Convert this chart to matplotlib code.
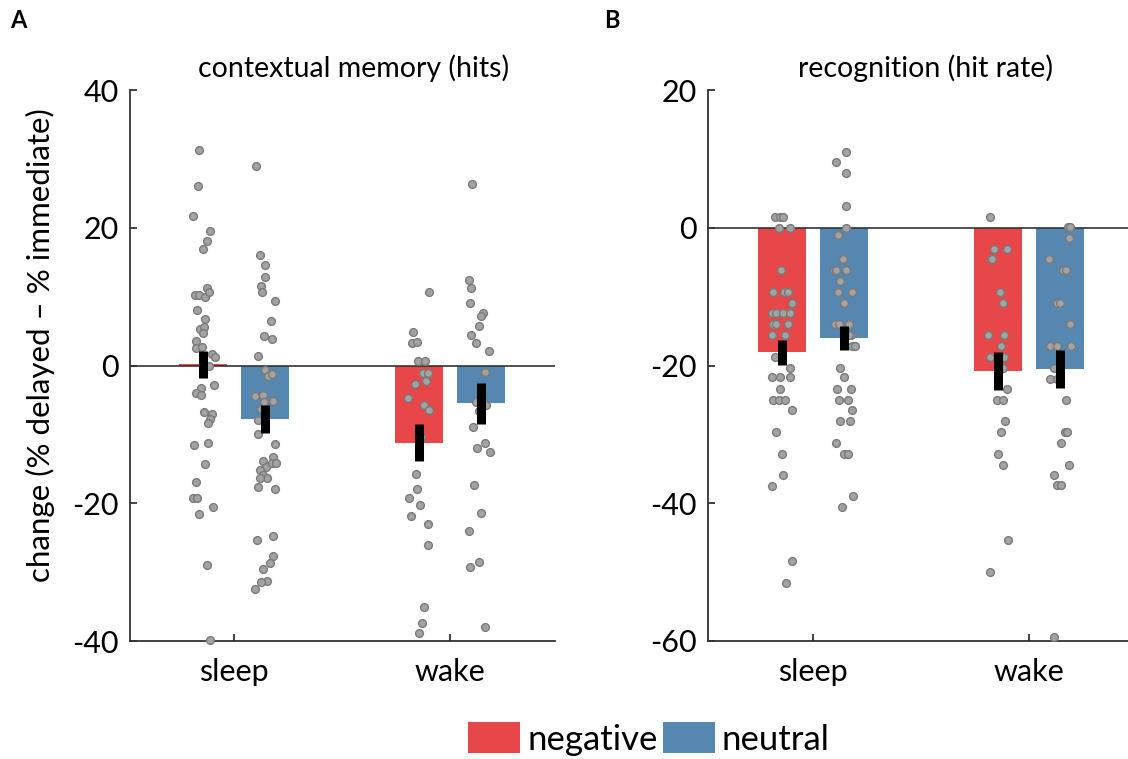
import numpy as np
import matplotlib
matplotlib.use('Agg')
import matplotlib.pyplot as plt
from matplotlib.patches import Patch

plt.rcParams['font.family'] = ['Lato', 'DejaVu Sans']
plt.rcParams['axes.unicode_minus'] = False

groups = ['sleep', 'wake']
conditions = ['negative', 'neutral']
colors = {'negative': '#E8474A', 'neutral': '#5687B0'}

# panel A: contextual memory (hits)
a_means = {'negative': [0.15, -11.2], 'neutral': [-7.8, -5.5]}
a_sems = {'negative': [2.0, 2.7], 'neutral': [2.0, 3.0]}

a_sleep_neg = [31.3, 26.1, 21.7, 19.5, 18.1, 16.9, 11.2, 10.3, 10.3, 9.9, 10.6, 8.1, 6.7, 5.3,
               5.6, 4.7, 3.5, 2.5, 2.7, 1.7, 1.2, 0.0, -3.2, -4.0, -4.3, -2.9, -6.8, -7.0, -7.7,
               -8.3, -11.6, -11.3, -14.3, -16.9, -19.2, -19.2, -20.6, -21.5, -29.0, -39.8]
a_sleep_neg_jit = [-0.020, -0.026, -0.047, 0.029, 0.016, -0.004, 0.016, -0.038, -0.020, 0.007,
                   0.027, -0.030, 0.008, -0.016, 0.002, -0.001, -0.035, -0.032, -0.008, 0.041,
                   0.052, 0.026, -0.010, -0.032, -0.012, 0.050, 0.004, 0.038, 0.030, 0.022,
                   -0.044, 0.022, 0.007, -0.033, -0.047, -0.030, 0.047, -0.021, 0.015, 0.029]

a_sleep_neu = [29.0, 16.0, 14.6, 12.9, 11.6, 10.7, 9.3, 6.5, 4.3, 3.9, 1.4, -0.7, -1.5, -1.3,
               -4.4, -4.3, -5.3, -5.2, -6.3, -7.9, -9.9, -11.4, -13.3, -13.9, -14.7, -14.1,
               -14.1, -15.2, -15.9, -16.4, -16.4, -17.7, -17.9, -25.3, -24.7, -27.7, -28.7,
               -29.6, -31.3, -31.4, -32.4]
a_sleep_neu_jit = [-0.043, -0.027, -0.001, -0.001, -0.020, -0.015, 0.043, 0.027, -0.006, 0.030,
                   -0.036, -0.001, 0.013, 0.033, -0.050, -0.010, -0.006, 0.036, -0.021, -0.033,
                   -0.035, 0.043, 0.036, -0.010, 0.001, 0.032, 0.050, -0.026, -0.010, 0.006,
                   -0.026, -0.035, 0.043, -0.040, 0.035, 0.035, 0.020, -0.013, 0.006, -0.018,
                   -0.049]

a_wake_neg = [10.7, 4.9, 3.2, 3.4, 0.6, 0.7, -1.1, -1.1, -2.2, -2.7, -4.7, -5.8, -6.4, -10.4,
              -15.8, -18.0, -19.3, -20.2, -21.8, -23.0, -26.0, -35.0, -37.4, -38.8]
a_wake_neg_jit = [0.048, -0.028, -0.031, -0.009, -0.001, 0.031, 0.020, 0.045, 0.036, -0.015,
                  -0.047, 0.027, 0.048, 0.013, -0.011, -0.006, -0.043, 0.006, -0.033, 0.045,
                  0.042, 0.025, 0.017, 0.001]

a_wake_neu = [26.3, 12.4, 11.3, 9.1, 7.6, 7.2, 5.7, 4.4, 3.2, 2.1, -0.9, -5.3, -5.8, -6.6, -8.9,
              -12.0, -11.3, -12.6, -17.4, -21.4, -24.0, -28.6, -29.3, -38.0]
a_wake_neu_jit = [-0.040, -0.053, -0.045, -0.050, 0.013, 0.001, -0.009, -0.043, -0.020, 0.039,
                  0.019, -0.020, 0.027, -0.009, -0.033, -0.017, 0.022, 0.043, -0.031, 0.001,
                  -0.053, -0.009, -0.051, 0.020]

# panel B: recognition (hit rate)
b_means = {'negative': [-18.1, -20.8], 'neutral': [-16.0, -20.5]}
b_sems = {'negative': [1.8, 2.7], 'neutral': [1.7, 2.8]}

b_sleep_neg = [1.6, 1.6, 1.6, -0.1, 0.0, -6.2, -9.3, -9.3, -9.3, -10.9, -12.4, -12.4, -12.4,
               -12.4, -14.0, -14.0, -14.0, -15.5, -15.5, -18.7, -20.3, -21.7, -21.7, -21.7,
               -23.4, -25.0, -25.0, -25.0, -26.5, -29.7, -32.8, -35.9, -37.5, -48.4, -51.6]
b_sleep_neg_jit = [-0.030, -0.007, 0.008, -0.012, 0.036, -0.004, -0.041, 0.012, 0.029, 0.049,
                   -0.046, -0.027, 0.004, 0.038, -0.040, -0.026, 0.027, -0.046, 0.015, -0.032,
                   0.038, -0.046, -0.007, 0.038, -0.007, -0.040, -0.012, 0.013, 0.049, -0.027,
                   -0.001, 0.007, -0.046, 0.049, 0.022]

b_sleep_neu = [11.0, 9.5, 7.9, 3.2, 0.0, -1.0, -4.6, -6.2, -6.2, -6.2, -7.8, -9.3, -9.3, -10.9,
               -14.0, -14.0, -14.0, -15.5, -15.5, -17.1, -17.1, -20.3, -21.7, -23.4, -23.4,
               -25.0, -25.0, -26.5, -28.1, -28.1, -31.2, -32.8, -32.8, -39.0, -40.6]
b_sleep_neu_jit = [0.007, -0.036, 0.010, 0.008, 0.007, -0.027, -0.006, -0.047, -0.036, 0.010,
                   -0.018, -0.027, 0.038, 0.002, -0.043, -0.024, 0.024, 0.033, 0.021, 0.038,
                   0.049, -0.018, 0.001, -0.033, 0.033, -0.021, 0.020, 0.036, -0.018, 0.027,
                   -0.036, 0.002, 0.018, 0.041, -0.010]

b_wake_neg = [1.6, -3.1, -3.1, -4.6, -4.6, -9.3, -10.9, -15.6, -15.6, -17.1, -18.7, -18.7,
              -20.3, -23.4, -25.0, -25.0, -28.1, -29.7, -32.8, -34.4, -45.3, -50.0]
b_wake_neg_jit = [-0.038, -0.016, 0.040, -0.032, -0.026, 0.010, 0.024, -0.044, 0.030, 0.012,
                  -0.035, 0.030, 0.022, 0.040, -0.006, 0.022, 0.032, 0.016, -0.001, 0.022,
                  0.046, -0.036]

b_wake_neu = [0.1, 0.1, -1.5, -4.6, -6.2, -6.2, -10.9, -10.9, -14.0, -17.1, -17.1, -17.1,
              -20.3, -21.9, -21.9, -25.0, -29.7, -29.7, -31.3, -34.4, -35.9, -37.4, -37.4, -59.4]
b_wake_neu_jit = [0.034, 0.047, 0.042, -0.051, 0.011, 0.025, -0.013, 0.000, 0.047, -0.047,
                  -0.015, 0.048, -0.028, -0.045, -0.015, 0.025, 0.022, 0.031, 0.005, 0.039,
                  -0.027, -0.015, 0.005, -0.029]

a_points = {('sleep', 'negative'): (a_sleep_neg, a_sleep_neg_jit),
            ('sleep', 'neutral'): (a_sleep_neu, a_sleep_neu_jit),
            ('wake', 'negative'): (a_wake_neg, a_wake_neg_jit),
            ('wake', 'neutral'): (a_wake_neu, a_wake_neu_jit)}
b_points = {('sleep', 'negative'): (b_sleep_neg, b_sleep_neg_jit),
            ('sleep', 'neutral'): (b_sleep_neu, b_sleep_neu_jit),
            ('wake', 'negative'): (b_wake_neg, b_wake_neg_jit),
            ('wake', 'neutral'): (b_wake_neu, b_wake_neu_jit)}

W, H = 1128, 759
fig = plt.figure(figsize=(W / 100, H / 100), dpi=100)

axA = fig.add_axes([130 / W, 1 - 641 / H, 425 / W, 551 / H])
axB = fig.add_axes([708 / W, 1 - 641 / H, 427 / W, 551 / H])

offset = 0.144
width = 0.223


def draw_panel(ax, means, sems, points, ylim, yticks, title, title_x):
    xs = np.arange(1, len(groups) + 1)
    for k, cond in enumerate(conditions):
        pos = xs + (offset if k else -offset)
        ax.bar(pos, means[cond], width=width, color=colors[cond], zorder=1)
    ax.axhline(0, color='#333333', lw=1.2, zorder=2)
    for k, cond in enumerate(conditions):
        for i, g in enumerate(groups):
            vals, jit = points[(g, cond)]
            center = xs[i] + (offset if k else -offset)
            ax.plot(center + np.array(jit), vals, 'o', ms=5.6, mfc='#a3a3a3',
                    mec='#7a7a7a', mew=1.0, zorder=3, clip_on=False)
    for k, cond in enumerate(conditions):
        pos = xs + (offset if k else -offset)
        m = np.array(means[cond])
        s = np.array(sems[cond])
        ax.vlines(pos, m - s, m + s, color='black', lw=6.5, zorder=4)
    ax.set_xlim(0.515, 2.49)
    ax.set_ylim(*ylim)
    ax.set_yticks(yticks)
    ax.set_xticks(xs)
    ax.set_xticklabels(groups)
    for sp in ['top', 'right']:
        ax.spines[sp].set_visible(False)
    for sp in ['left', 'bottom']:
        ax.spines[sp].set_linewidth(1.3)
        ax.spines[sp].set_color('#333333')
    ax.tick_params(direction='in', length=5, width=1.3, color='#333333',
                   labelsize=22, pad=8)
    ax.tick_params(axis='x', pad=12)
    ax.text(title_x, 1.04, title, transform=ax.transAxes, ha='center',
            va='center', fontsize=20.5)


draw_panel(axA, a_means, a_sems, a_points, (-40, 40), [-40, -20, 0, 20, 40],
           'contextual memory (hits)', 0.527)
draw_panel(axB, b_means, b_sems, b_points, (-60, 20), [-60, -40, -20, 0, 20],
           'recognition (hit rate)', 0.51)

fig.text(40 / W, 1 - 345 / H, 'change (% delayed \u2013 % immediate)', rotation=90,
         ha='center', va='center', fontsize=22.5)

fig.text(10 / W, 1 - 20 / H, 'A', fontsize=17, fontweight='bold', ha='left', va='center')
fig.text(604 / W, 1 - 20 / H, 'B', fontsize=17, fontweight='bold', ha='left', va='center')

handles = [Patch(facecolor=colors[c], edgecolor='none', label=c) for c in conditions]
fig.legend(handles=handles, loc='center', bbox_to_anchor=(649 / W, 1 - 739 / H), ncol=2,
           frameon=False, fontsize=25, handlelength=1.5, handleheight=1.0,
           handletextpad=0.2, columnspacing=0.15, borderpad=0)

fig.savefig('out.png', dpi=100)
